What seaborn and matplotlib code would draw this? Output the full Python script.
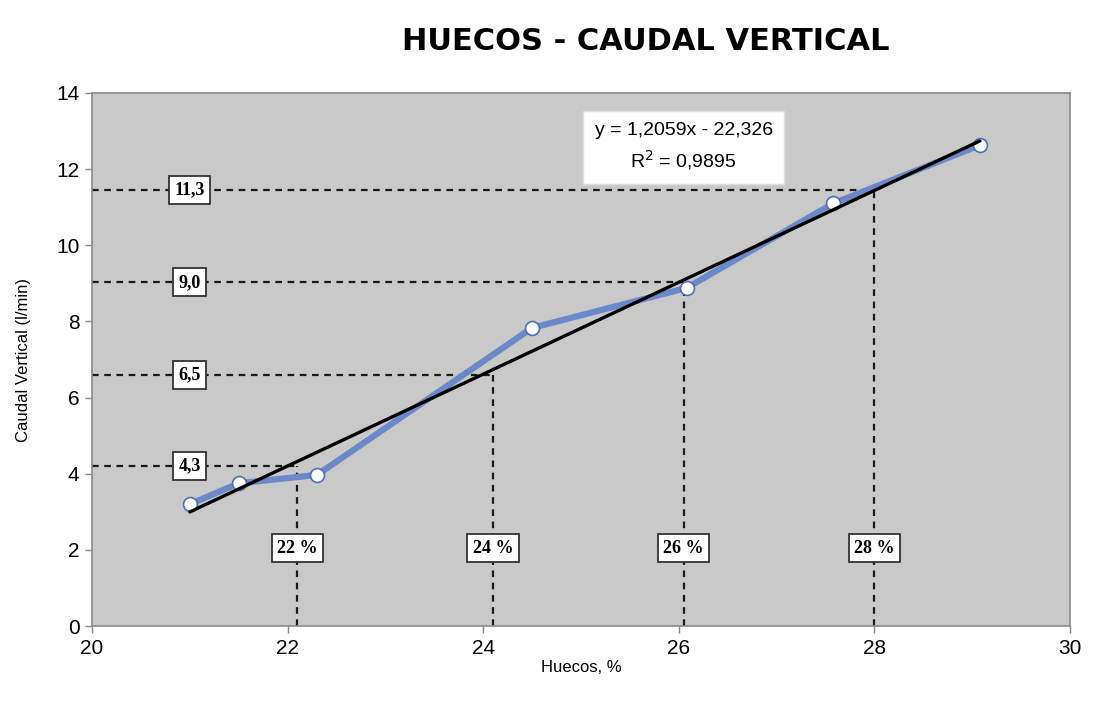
import numpy as np
import pandas as pd
import matplotlib
matplotlib.use("Agg")
import matplotlib.pyplot as plt
import seaborn as sns

# Data
huecos = [21.0, 21.5, 22.3, 24.5, 26.08, 27.58, 29.08]
caudal = [3.2, 3.75, 3.97, 7.83, 8.88, 11.1, 12.63]
slope = 1.2059
intercept = -22.326
r2 = 0.9895
ref_x = [22.1, 24.1, 26.05, 28.0]
ref_y = [4.2, 6.6, 9.03, 11.45]
ref_x_labels = ["22 %", "24 %", "26 %", "28 %"]
ref_y_labels = ["4,3", "6,5", "9,0", "11,3"]
x_ticks = [20, 22, 24, 26, 28, 30]
y_ticks = [0, 2, 4, 6, 8, 10, 12, 14]

sns.set_theme(style="white")
plt.rcParams['font.family'] = ['Liberation Sans', 'DejaVu Sans']
plt.rcParams['text.color'] = 'black'
plt.rcParams['axes.labelcolor'] = 'black'
plt.rcParams['xtick.color'] = 'black'
plt.rcParams['ytick.color'] = 'black'

fig = plt.figure(figsize=(11.03, 7.18), dpi=100)
ax = fig.add_axes([0.0834, 0.128, 0.8866, 0.7425])
ax.set_facecolor("#c9c9c9")

df = pd.DataFrame({"Huecos": huecos, "Caudal": caudal})
fit_x = np.array([min(huecos), max(huecos)])
fit_df = pd.DataFrame({"Huecos": fit_x, "Caudal": slope * fit_x + intercept})

# reference dashed lines
for xv, yv in zip(ref_x, ref_y):
    ax.plot([20, xv], [yv, yv], ls=(0, (3, 2.5)), color="#1a1a1a", lw=1.6, zorder=2)
    ax.plot([xv, xv], [0, yv], ls=(0, (3, 2.5)), color="#1a1a1a", lw=1.6, zorder=2)

sns.lineplot(data=df, x="Huecos", y="Caudal", ax=ax, color="#6b88c9", lw=4.5,
             marker="o", markersize=10, markerfacecolor="white",
             markeredgecolor="#4f6fb8", markeredgewidth=1.2, zorder=3)
sns.lineplot(data=fit_df, x="Huecos", y="Caudal", ax=ax, color="black", lw=2.4, zorder=4)

box = dict(boxstyle="square,pad=0.3", fc="white", ec="#333333", lw=1.3)
for yv, lab in zip(ref_y, ref_y_labels):
    ax.text(21.0, yv, lab, ha="center", va="center", fontsize=13, fontweight="bold",
            family=["Liberation Serif", "DejaVu Serif"], bbox=box, zorder=5)
for xv, lab in zip(ref_x, ref_x_labels):
    ax.text(xv, 2.05, lab, ha="center", va="center", fontsize=13, fontweight="bold",
            family=["Liberation Serif", "DejaVu Serif"], bbox=box, zorder=5)

eq = f"y = {slope:.4f}x - {abs(intercept):.3f}".replace(".", ",")
r2txt = f"R$^2$ = {r2:.4f}".replace(".", ",")
ax.text(26.05, 12.58, eq + "\n" + r2txt, ha="center", va="center", fontsize=14,
        linespacing=1.5,
        bbox=dict(boxstyle="square,pad=0.6", fc="white", ec="#dddddd", lw=1), zorder=5)

ax.set_xlim(20, 30)
ax.set_ylim(0, 14)
ax.set_xticks(x_ticks)
ax.set_yticks(y_ticks)
ax.tick_params(axis="both", labelsize=15, length=5, width=1, color="#888888",
               labelcolor="black", direction="out", bottom=True, left=True, pad=4)
for s in ax.spines.values():
    s.set_color("#8a8a8a")
    s.set_linewidth(1.2)
ax.set_xlabel("Huecos, %", fontsize=12, labelpad=2)
ax.set_ylabel("Caudal Vertical (l/min)", fontsize=12, labelpad=18)

fig.text(0.585, 0.942, "HUECOS - CAUDAL VERTICAL", ha="center", va="center",
         fontsize=22, fontweight="heavy", color="black", family=["DejaVu Sans"])

fig.savefig("out.png", dpi=100)
